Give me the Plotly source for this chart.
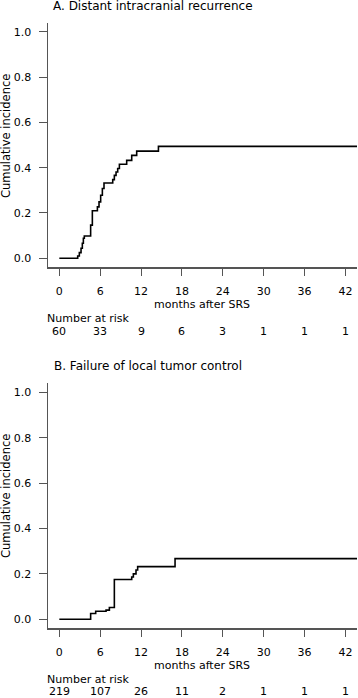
import plotly.graph_objects as go

# ---- data ----
months_A = [0, 2.70, 2.94, 3.19, 3.38, 3.53, 3.67, 4.60, 4.85, 5.59, 5.83, 6.07, 6.32, 6.56,
            7.84, 8.08, 8.33, 8.57, 8.82, 9.89, 10.63, 11.36, 14.55, 43.7]
cuminc_A = [0, 0.010, 0.025, 0.044, 0.066, 0.088, 0.098, 0.146, 0.210, 0.227, 0.249, 0.278,
            0.308, 0.332, 0.347, 0.366, 0.381, 0.396, 0.415, 0.432, 0.454, 0.473, 0.494, 0.494]

months_B = [0, 4.60, 5.34, 6.86, 7.35, 8.08, 10.63, 10.87, 11.26, 11.50, 16.99, 43.7]
cuminc_B = [0, 0.025, 0.035, 0.040, 0.052, 0.175, 0.186, 0.200, 0.217, 0.232, 0.267, 0.267]

tick_months = [0, 6, 12, 18, 24, 30, 36, 42]
risk_A = [60, 33, 9, 6, 3, 1, 1, 1]
risk_B = [219, 107, 26, 11, 2, 1, 1, 1]
y_ticks = [0.0, 0.2, 0.4, 0.6, 0.8, 1.0]
y_ticklabels = ["0.0", "0.2", "0.4", "0.6", "0.8", "1.0"]

title_A = "A. Distant intracranial recurrence"
title_B = "B. Failure of local tumor control"

W, H = 358, 698
FONT = "DejaVu Sans"
AXC = "#555555"

def py(p):
    return 1 - p / H

def px(p):
    return p / W

fig = go.Figure()
fig.add_trace(go.Scatter(x=months_A, y=cuminc_A, mode="lines", line=dict(shape="hv", color="black", width=1.6),
                         xaxis="x", yaxis="y", showlegend=False, hoverinfo="skip"))
fig.add_trace(go.Scatter(x=months_B, y=cuminc_B, mode="lines", line=dict(shape="hv", color="black", width=1.6),
                         xaxis="x2", yaxis="y2", showlegend=False, hoverinfo="skip"))

xcommon = dict(range=[-1.66, 43.7], tickvals=tick_months, ticktext=[str(t) for t in tick_months],
               showline=True, linecolor=AXC, linewidth=1.5, ticks="outside", ticklen=7, tickwidth=1,
               tickcolor=AXC, showgrid=False, zeroline=False, tickfont=dict(family=FONT, size=11, color="black"),
               ticklabelstandoff=6, fixedrange=True)
ycommon = dict(range=[-0.04, 1.04], tickvals=y_ticks, ticktext=y_ticklabels,
               showline=True, linecolor=AXC, linewidth=1.5, ticks="outside", ticklen=8, tickwidth=1,
               tickcolor=AXC, showgrid=False, zeroline=False, tickfont=dict(family=FONT, size=11, color="black"),
               ticklabelstandoff=5, fixedrange=True)

fig.update_layout(
    width=W, height=H, margin=dict(l=0, r=0, t=0, b=0),
    paper_bgcolor="white", plot_bgcolor="white",
    xaxis=dict(domain=[px(48), px(357)], anchor="y", **xcommon),
    yaxis=dict(domain=[py(267.3), py(22.7)], anchor="x", **ycommon),
    xaxis2=dict(domain=[px(48), px(357)], anchor="y2", **xcommon),
    yaxis2=dict(domain=[py(628.3), py(383.3)], anchor="x2", **ycommon),
    font=dict(family=FONT, size=11, color="black"),
)

ann = []
def text(x, y, s, size=11, xanchor="center", xref="paper", angle=0):
    ann.append(dict(x=x, y=y, xref=xref, yref="paper", text=s, showarrow=False,
                    xanchor=xanchor, yanchor="middle", textangle=angle,
                    font=dict(family=FONT, size=size, color="black")))

# panel A
text(px(51), py(6), title_A, size=12, xanchor="left")
text(px(6), py(136), "Cumulative incidence", size=11.5, angle=-90)
text(px(202), py(304), "months after SRS")
text(px(45), py(318), "Number at risk", xanchor="left")
for m, r in zip(tick_months, risk_A):
    ann.append(dict(x=m, y=py(331), xref="x", yref="paper", text=str(r), showarrow=False,
                    xanchor="center", yanchor="middle", font=dict(family=FONT, size=11, color="black")))
# panel B
text(px(52), py(366), title_B, size=12, xanchor="left")
text(px(6), py(496), "Cumulative incidence", size=11.5, angle=-90)
text(px(202), py(665), "months after SRS")
text(px(45), py(679), "Number at risk", xanchor="left")
for m, r in zip(tick_months, risk_B):
    ann.append(dict(x=m, y=py(691), xref="x2", yref="paper", text=str(r), showarrow=False,
                    xanchor="center", yanchor="middle", font=dict(family=FONT, size=11, color="black")))

fig.update_layout(annotations=ann)
fig.write_html("out.html", config={"displayModeBar": False, "staticPlot": True},
               post_script="document.body.style.margin='0';document.body.style.overflow='hidden';")
